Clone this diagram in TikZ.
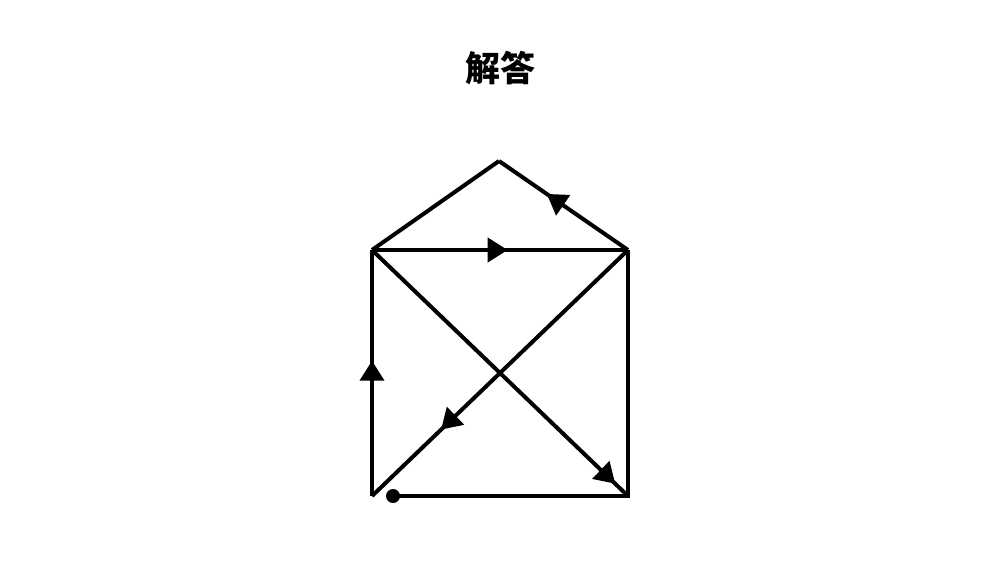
\documentclass[tikz,border=0pt]{standalone}
\usepackage{fontspec}
\newfontfamily\cjk{Noto Sans CJK SC}
\usetikzlibrary{arrows.meta,decorations.markings}
\begin{document}
\begin{tikzpicture}[x=1pt,y=-1pt,
  edge/.style={line width=4pt,line join=miter,line cap=butt},
  midarrow/.style={postaction={decorate},decoration={markings,
    mark=at position #1 with {\arrow{Triangle[length=20pt,width=24pt]}}}}]
\useasboundingbox (0,0) rectangle (1000,563);
\node[font=\cjk\bfseries\fontsize{35}{40}\selectfont] (title) at (500,68) {解答};
\coordinate (BL) at (372,496);
\coordinate (BR) at (628,496);
\coordinate (TL) at (372,250);
\coordinate (TR) at (628,250);
\coordinate (AP) at (499,161);
\coordinate (D) at (393,496);
\draw[edge] (D) -- (BR) -- (TR);
\draw[edge] (TL) -- (AP);
\draw[edge,midarrow=0.55] (BL) -- (TL);
\draw[edge,midarrow=0.53] (TL) -- (TR);
\draw[edge,midarrow=0.63] (TR) -- (AP);
\draw[edge,midarrow=0.73] (TR) -- (BL);
\draw[edge,midarrow=0.95] (TL) -- (BR);
\fill (D) circle (7);
\end{tikzpicture}
\end{document}
